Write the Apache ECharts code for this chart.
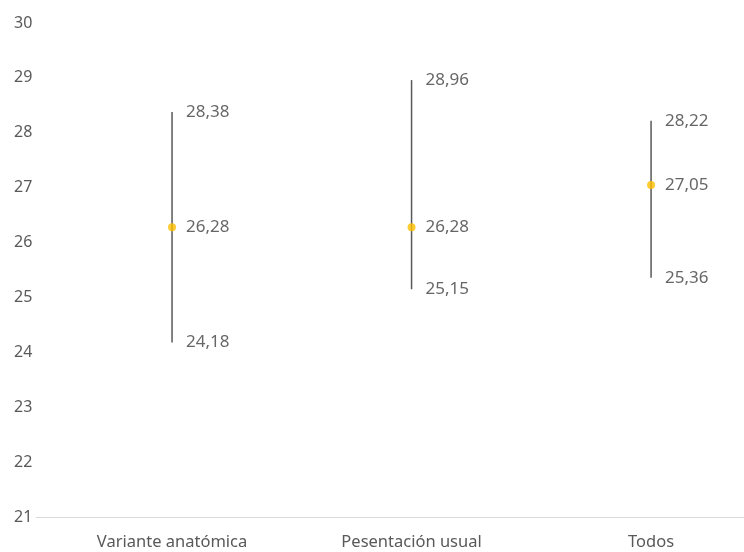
<!DOCTYPE html>
<html>
<head>
<meta charset="utf-8">
<script src="https://cdn.jsdelivr.net/npm/echarts@6/dist/echarts.min.js"></script>
<style>
  html, body { margin: 0; padding: 0; background: #fff; }
  #chart { width: 744px; height: 552px; }
</style>
</head>
<body>
<div id="chart"></div>
<script>
// Groups and their interval estimates (mean with lower / upper bound)
const categories = ['Variante anatómica', 'Pesentación usual', 'Todos'];
const meanValues = [26.28, 26.28, 27.05];
const upperValues = [28.38, 28.96, 28.22];
const lowerValues = [24.18, 25.15, 25.36];
const yTicks = [21, 22, 23, 24, 25, 26, 27, 28, 29, 30];

const fontFamily = "'Noto Sans', 'Open Sans', sans-serif";
const fmt = v => v.toFixed(2).replace('.', ',');

const idx = categories.map((_, i) => i);
const pairs = arr => arr.map((v, i) => [i, v]);

const valueLabel = (distance) => ({
  show: true, position: 'right', distance: distance,
  color: '#404040', fontFamily: fontFamily, fontSize: 17,
  formatter: p => fmt(p.value[1])
});

const chart = echarts.init(document.getElementById('chart'));
chart.setOption({
  animation: false,
  backgroundColor: '#ffffff',
  grid: { left: 36, right: 0, top: 23, bottom: 35 },
  xAxis: {
    type: 'value',
    min: -0.568,
    max: 2.388,
    splitLine: { show: false },
    axisTick: { show: false },
    axisLine: { show: true, lineStyle: { color: '#d9d9d9', width: 1 } },
    axisLabel: {
      customValues: idx,
      color: '#595959',
      fontFamily: fontFamily,
      fontSize: 16.5,
      margin: 17,
      formatter: v => categories[Math.round(v)] || ''
    }
  },
  yAxis: {
    type: 'value',
    min: yTicks[0],
    max: yTicks[yTicks.length - 1],
    interval: 1,
    splitLine: { show: false },
    axisLine: { show: false },
    axisTick: { show: false },
    axisLabel: {
      color: '#595959',
      fontFamily: fontFamily,
      fontSize: 16,
      align: 'left',
      margin: 22
    }
  },
  series: [
    {
      type: 'custom',
      data: idx.map(i => [i, lowerValues[i], upperValues[i]]),
      renderItem: function (params, api) {
        const p1 = api.coord([api.value(0), api.value(1)]);
        const p2 = api.coord([api.value(0), api.value(2)]);
        return {
          type: 'line',
          shape: { x1: p1[0], y1: p1[1], x2: p2[0], y2: p2[1] },
          style: { stroke: '#595959', lineWidth: 1.5 }
        };
      },
      z: 1
    },
    {
      type: 'scatter',
      data: pairs(upperValues),
      symbolSize: 0,
      label: valueLabel(14),
      z: 3
    },
    {
      type: 'scatter',
      data: pairs(lowerValues),
      symbolSize: 0,
      label: valueLabel(14),
      z: 3
    },
    {
      type: 'scatter',
      data: pairs(meanValues),
      symbol: 'circle',
      symbolSize: 8,
      itemStyle: { color: '#FFC000' },
      label: valueLabel(10),
      z: 4
    }
  ]
});
</script>
</body>
</html>
